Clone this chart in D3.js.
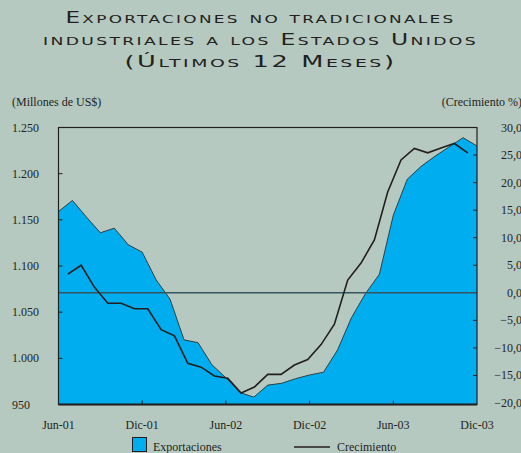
<!DOCTYPE html>
<html>
<head>
<meta charset="utf-8">
<script src="https://cdn.jsdelivr.net/npm/d3@7"></script>
<style>
  html, body { margin: 0; padding: 0; background: #b5c9c0; }
  svg { display: block; }
</style>
</head>
<body>
<svg id="chart" width="521" height="453"></svg>
<script>
// monthly data, Jun-01 .. Dic-03
const months = d3.range(31)
const exportaciones = [1159, 1171, 1153, 1136, 1141, 1123, 1115, 1085, 1064, 1020,
  1017, 993, 979, 963, 958, 971, 973, 978, 982, 985,
  1009, 1044, 1070, 1091, 1155, 1194, 1208, 1219, 1229, 1239, 1230]
const crecimiento = [3.4, 5.0, 1.0, -1.9, -1.9, -2.9, -2.9, -6.7, -7.8, -12.8,
  -13.5, -15.1, -15.5, -18.2, -17.1, -14.8, -14.8, -13.1, -12.1, -9.4,
  -5.7, 2.3, 5.4, 9.6, 18.3, 24.1, 26.2, 25.4, 26.3, 27.1, 25.4]
const xTickMonths = [0, 6, 12, 18, 24, 30]
const xTickLabels = ['Jun-01', 'Dic-01', 'Jun-02', 'Dic-02', 'Jun-03', 'Dic-03']
const leftTicks = [950, 1000, 1050, 1100, 1150, 1200, 1250]
const rightTicks = [-20, -15, -10, -5, 0, 5, 10, 15, 20, 25, 30]
const titleLines = ['Exportaciones no tradicionales', 'industriales a los Estados Unidos', '(Últimos 12 Meses)']

const svg = d3.select('#chart')
const plotLeft = 58.5
const plotRight = 477
const plotTop = 127.5
const plotBottom = 404.5

const AREA_COLOR = '#00aeef'
const INK = '#231f20'

const x = d3.scaleLinear().domain([0, 30]).range([plotLeft, plotRight])
const xGrowth = d3.scalePoint().domain(months).range([plotLeft, plotRight]).padding(0.7)
const yLeft = d3.scaleLinear().domain([950, 1250]).range([plotBottom, plotTop])
const yRight = d3.scaleLinear().domain([-20, 30]).range([403, plotTop])

// title (wide small caps, stretched to the reference widths)
const titleWidths = [390, 435, 272]
svg.selectAll('text.title')
  .data(titleLines)
  .enter()
  .append('text')
  .attr('class', 'title')
  .attr('x', 260.5)
  .attr('y', (d, i) => 22.5 + i * 22)
  .attr('text-anchor', 'middle')
  .attr('textLength', (d, i) => titleWidths[i])
  .attr('lengthAdjust', 'spacingAndGlyphs')
  .style('font-family', '"DejaVu Sans", sans-serif')
  .style('font-size', '15px')
  .style('font-variant', 'small-caps')
  .style('letter-spacing', '1.5px')
  .style('fill', INK)
  .text((d) => d)

const serif = '"Liberation Serif", "Times New Roman", serif'

svg.append('text')
  .attr('x', 12)
  .attr('y', 106)
  .style('font-family', serif)
  .style('font-size', '12px')
  .style('fill', INK)
  .text('(Millones de US$)')

svg.append('text')
  .attr('x', 522)
  .attr('y', 106)
  .attr('text-anchor', 'end')
  .style('font-family', serif)
  .style('font-size', '12px')
  .style('fill', INK)
  .text('(Crecimiento %)')

// area
const area = d3.area()
  .x((d, i) => x(months[i]))
  .y0(plotBottom)
  .y1((d) => yLeft(d))

svg.append('path')
  .datum(exportaciones)
  .attr('d', area)
  .attr('fill', AREA_COLOR)

const areaTop = d3.line()
  .x((d, i) => x(months[i]))
  .y((d) => yLeft(d))

svg.append('path')
  .datum(exportaciones)
  .attr('d', areaTop)
  .attr('fill', 'none')
  .attr('stroke', INK)
  .attr('stroke-width', 0.8)

// zero line of growth axis
svg.append('line')
  .attr('x1', plotLeft)
  .attr('x2', plotRight)
  .attr('y1', yRight(0))
  .attr('y2', yRight(0))
  .attr('stroke', '#35555f')
  .attr('stroke-width', 1.4)

// growth line
const growthLine = d3.line()
  .x((d, i) => xGrowth(months[i]))
  .y((d) => yRight(d))

svg.append('path')
  .datum(crecimiento)
  .attr('d', growthLine)
  .attr('fill', 'none')
  .attr('stroke', INK)
  .attr('stroke-width', 1.6)
  .attr('stroke-linejoin', 'miter')

// frame
svg.append('rect')
  .attr('x', plotLeft)
  .attr('y', plotTop)
  .attr('width', plotRight - plotLeft)
  .attr('height', plotBottom - plotTop)
  .attr('fill', 'none')
  .attr('stroke', INK)
  .attr('stroke-width', 1.2)

svg.append('line')
  .attr('x1', plotLeft)
  .attr('x2', plotRight)
  .attr('y1', plotBottom)
  .attr('y2', plotBottom)
  .attr('stroke', INK)
  .attr('stroke-width', 1.8)

// ticks
svg.selectAll('line.ltick')
  .data(leftTicks.slice(1, -1))
  .enter()
  .append('line')
  .attr('class', 'ltick')
  .attr('x1', plotLeft)
  .attr('x2', plotLeft + 4)
  .attr('y1', (d) => yLeft(d))
  .attr('y2', (d) => yLeft(d))
  .attr('stroke', INK)

svg.selectAll('line.rtick')
  .data(rightTicks.slice(1, -1).filter((d) => d !== 0))
  .enter()
  .append('line')
  .attr('class', 'rtick')
  .attr('x1', plotRight - 4)
  .attr('x2', plotRight)
  .attr('y1', (d) => yRight(d))
  .attr('y2', (d) => yRight(d))
  .attr('stroke', INK)

svg.selectAll('line.xtick')
  .data(xTickMonths.slice(1, -1))
  .enter()
  .append('line')
  .attr('class', 'xtick')
  .attr('x1', (d) => x(d))
  .attr('x2', (d) => x(d))
  .attr('y1', plotBottom)
  .attr('y2', plotBottom - 4)
  .attr('stroke', INK)

// tick labels
svg.selectAll('text.lab-l')
  .data(leftTicks)
  .enter()
  .append('text')
  .attr('class', 'lab-l')
  .attr('x', 12)
  .attr('y', (d) => yLeft(d) + 4)
  .style('font-family', serif)
  .style('font-size', '12px')
  .style('fill', INK)
  .text((d) => d3.format(',')(d).replace(',', '.'))

svg.selectAll('text.lab-r')
  .data(rightTicks)
  .enter()
  .append('text')
  .attr('class', 'lab-r')
  .attr('x', 522)
  .attr('y', (d) => yRight(d) + 4)
  .attr('text-anchor', 'end')
  .style('font-family', serif)
  .style('font-size', '12px')
  .style('fill', INK)
  .text((d) => d3.format('.1f')(d).replace('.', ','))

svg.selectAll('text.lab-x')
  .data(xTickMonths)
  .enter()
  .append('text')
  .attr('class', 'lab-x')
  .attr('x', (d) => x(d))
  .attr('y', 429)
  .attr('text-anchor', 'middle')
  .style('font-family', serif)
  .style('font-size', '12px')
  .style('fill', INK)
  .text((d, i) => xTickLabels[i])

// legend
svg.append('rect')
  .attr('x', 132.5)
  .attr('y', 437.5)
  .attr('width', 14)
  .attr('height', 14)
  .attr('fill', AREA_COLOR)
  .attr('stroke', INK)
  .attr('stroke-width', 1)

svg.append('text')
  .attr('x', 153)
  .attr('y', 450.5)
  .style('font-family', serif)
  .style('font-size', '12px')
  .style('fill', INK)
  .text('Exportaciones')

svg.append('line')
  .attr('x1', 294)
  .attr('x2', 330)
  .attr('y1', 447)
  .attr('y2', 447)
  .attr('stroke', INK)
  .attr('stroke-width', 1.6)

svg.append('text')
  .attr('x', 337)
  .attr('y', 450.5)
  .style('font-family', serif)
  .style('font-size', '12px')
  .style('fill', INK)
  .text('Crecimiento')
</script>
</body>
</html>
